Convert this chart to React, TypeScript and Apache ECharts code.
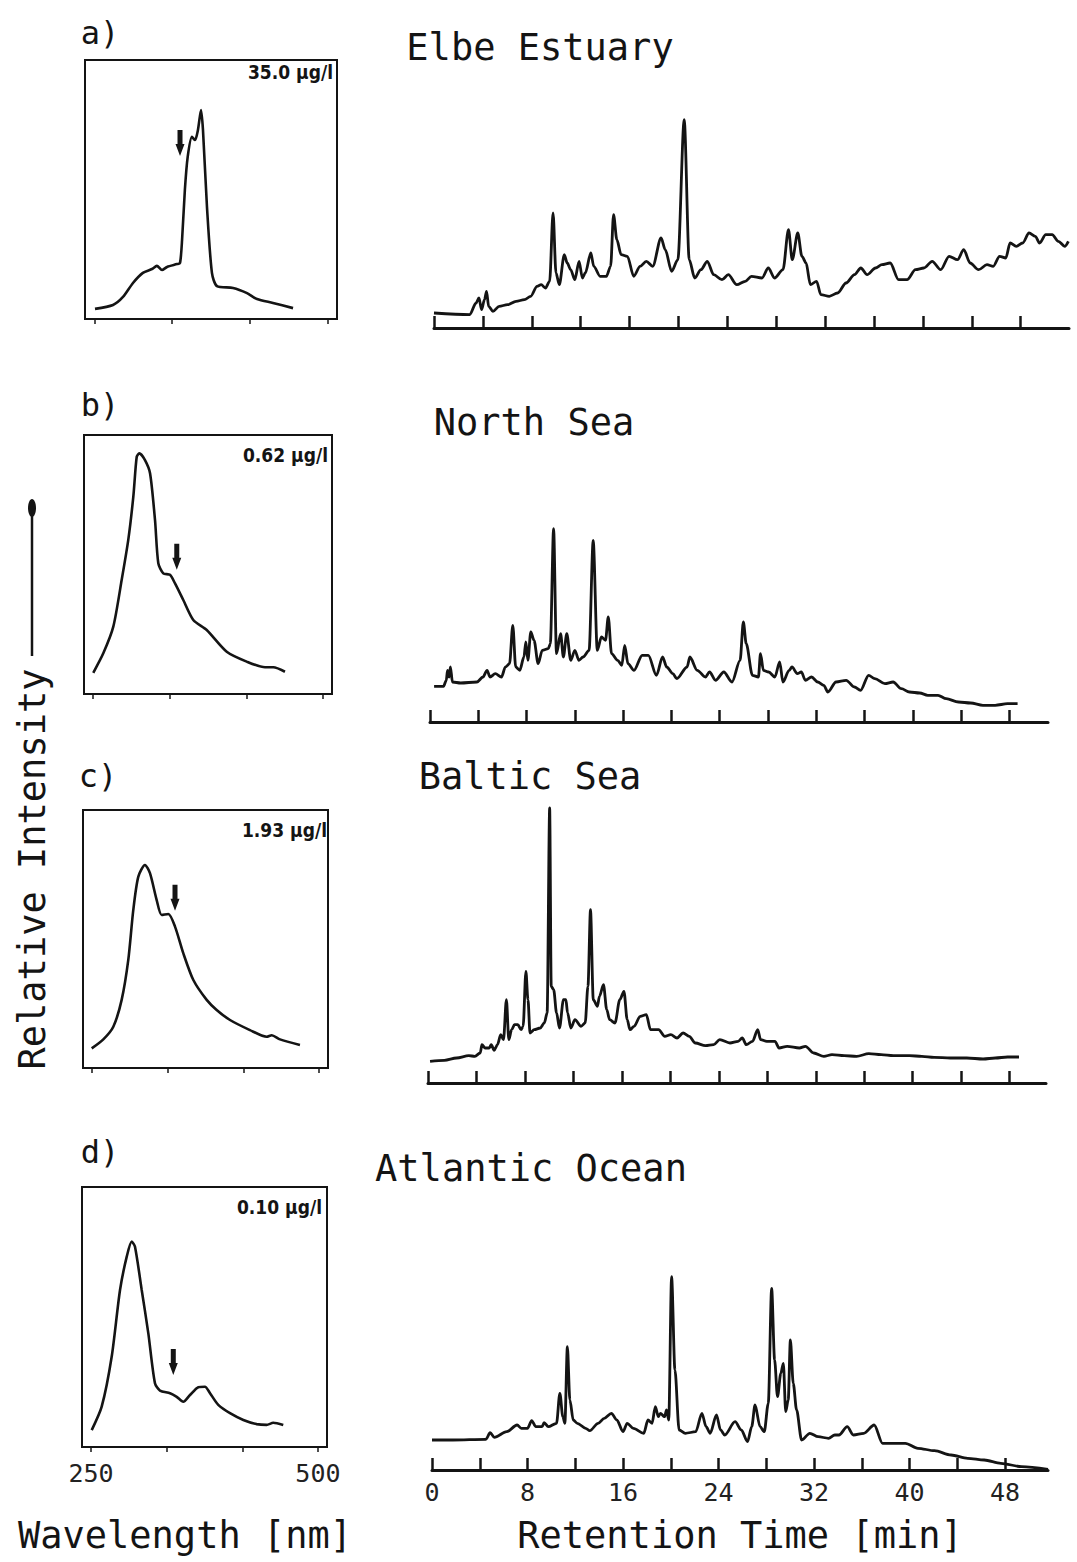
import React, { useEffect, useRef } from "react";
import * as echarts from "echarts";

// ---------------- DATA ----------------
const panelLabels = ["a)", "b)", "c)", "d)"];
const panelTitles = ["Elbe Estuary", "North Sea", "Baltic Sea", "Atlantic Ocean"];
const concentrations = ["35.0 µg/l", "0.62 µg/l", "1.93 µg/l", "0.10 µg/l"];
const wavelengthTicks = [250, 333.3, 416.7, 500];
const wavelengthLabels = [250, 500];
const retentionTicks = [0, 4, 8, 12, 16, 20, 24, 28, 32, 36, 40, 44, 48];
const retentionLabels = [0, 8, 16, 24, 32, 40, 48];

// fluorescence spectra: [wavelength nm, relative intensity %]
const spectrumA: [number, number][] = [
  [250.7, 3.9], [270, 5.4], [280.7, 8.5], [291.4, 13.9], [302, 17.8], [311.8, 19.3], [317, 20.5],
  [322.5, 18.9], [327.9, 20.1], [338.6, 21.2], [341.8, 21.6], [344, 30.5], [347, 49.8], [350, 62.5],
  [354.6, 70.3], [357.9, 69.1], [361, 73], [364.3, 80.7], [366.4, 73], [370.7, 43.2], [376, 17.8],
  [381.4, 12.7], [398.6, 12], [413.6, 10], [424.3, 7.7], [441.4, 6.2], [462.9, 4.2],
];
const spectrumB: [number, number][] = [
  [250.1, 8.2], [261, 15.7], [271.9, 26], [281, 44], [288.2, 59.5], [293.7, 76.2], [297.4, 91.6],
  [300.2, 92.9], [306.4, 90.3], [311.9, 85.2], [317.3, 67.2], [320.9, 50.5], [326.3, 46.6],
  [333.6, 46], [339.1, 42.7], [348.1, 36.3], [359, 28.6], [373.6, 24.7], [395.4, 16.3],
  [417.1, 12.5], [437.1, 10.3], [446.1, 10.3], [458.8, 8.6],
];
const spectrumC: [number, number][] = [
  [249.6, 7.6], [262.4, 11.1], [273.4, 16], [282.6, 26.4], [289.9, 41.9], [295.4, 61.2], [300.9, 74.1],
  [308.3, 78.7], [313.8, 75.5], [321.2, 65.1], [326.7, 59.3], [334, 59.7], [341.4, 54.8],
  [350.5, 44.5], [361.6, 34.1], [376.3, 26.4], [387.3, 22.5], [402, 18.6], [424, 14.7],
  [442.4, 12.1], [448, 12.7], [457.1, 11.1], [479.1, 8.9],
];
const spectrumD: [number, number][] = [
  [250.7, 6.5], [261.7, 15.5], [272.7, 34.7], [281.9, 60.4], [289.3, 73.2], [294.8, 79], [298.4, 77],
  [305.8, 60.4], [313.1, 43.7], [320.4, 24.5], [326, 21.7], [337, 20.7], [344.4, 19.3],
  [351.6, 17.4], [359, 20], [368.2, 23], [375.5, 23.2], [381.1, 20.7], [390.2, 16.2],
  [403.1, 13], [417.8, 10.4], [432.5, 8.8], [443.5, 8.5], [450.8, 9.3], [461.8, 8.5],
];
// arrow markers on the spectra: [wavelength, intensity]
const arrowA: [number, number] = [341.8, 68];
const arrowB: [number, number] = [341, 53];
const arrowC: [number, number] = [341.4, 66];
const arrowD: [number, number] = [340.6, 32.7];

// chromatograms: [retention time min, relative intensity]
const chromA: [number, number][] = [
  [0, 15], [2.92, 13.3], [3.44, 25], [3.68, 30], [3.89, 18.3], [4.13, 28.3], [4.3, 36.7], [4.47, 21.7],
  [4.82, 16.7], [5.33, 21.7], [6.02, 23.3], [6.71, 26.7], [7.4, 28.3], [7.91, 31.7], [8.43, 41.7],
  [8.77, 43.3], [9.12, 40], [9.46, 46.7], [9.74, 115], [9.98, 55], [10.25, 43.3], [10.66, 73.3],
  [10.9, 65], [11.18, 58.3], [11.52, 48.3], [11.87, 66.7], [12.14, 50], [12.38, 55], [12.83, 75],
  [13.07, 61.7], [13.59, 51.7], [14.1, 51.7], [14.45, 61.7], [14.69, 113.3], [14.96, 88.3],
  [15.31, 73.3], [15.82, 71.7], [16.34, 51.7], [16.86, 61.7], [17.37, 66.7], [17.89, 61.7],
  [18.58, 90], [18.92, 78.3], [19.44, 56.7], [19.95, 68.3], [20.47, 208.3], [20.88, 68.3],
  [21.33, 50], [21.84, 58.3], [22.36, 66.7], [22.88, 53.3], [23.56, 48.3], [24.08, 53.3],
  [24.77, 43.3], [25.46, 46.7], [25.97, 51.7], [26.83, 50], [27.35, 60], [27.86, 50], [28.55, 58.3],
  [29.0, 98.3], [29.31, 68.3], [29.76, 95], [30.1, 71.7], [30.44, 65], [30.79, 43.3], [31.3, 46.7],
  [31.65, 33.3], [32.34, 31.7], [33.02, 35], [33.71, 45], [34.4, 53.3], [34.92, 60], [35.43, 53.3],
  [36.12, 60], [36.64, 63.3], [37.32, 65], [38.01, 48.3], [38.7, 48.3], [39.39, 58.3], [40.08, 60],
  [40.76, 66.7], [41.45, 58.3], [42.14, 71.7], [42.83, 68.3], [43.34, 78.3], [43.86, 65],
  [44.55, 58.3], [45.24, 63.3], [45.75, 61.7], [46.27, 71.7], [46.78, 70], [47.13, 85], [47.64, 81.7],
  [48.16, 85], [48.68, 95], [49.19, 91.7], [49.54, 85], [50.05, 93.3], [50.57, 93.3], [51.08, 86.7],
  [51.6, 81.7], [51.9, 86.7],
];
const chromB: [number, number][] = [
  [0.34, 35.7], [1.12, 35.7], [1.35, 41.7], [1.45, 51.7], [1.59, 45], [1.69, 55], [1.86, 40],
  [2.54, 39], [3.89, 40], [4.39, 45], [4.73, 51.7], [4.97, 45], [5.41, 48.3], [5.92, 45], [6.25, 55],
  [6.59, 58.3], [6.86, 96.7], [7.1, 55], [7.44, 51.7], [7.78, 65], [7.94, 80], [8.11, 61.7], [8.35, 90],
  [8.62, 81.7], [8.96, 58.3], [9.3, 71.7], [9.8, 73.3], [9.97, 78.3], [10.24, 193.3], [10.48, 68.3],
  [10.82, 88.3], [11.05, 65], [11.33, 88.3], [11.66, 61.7], [12.0, 71.7], [12.34, 61.7], [12.68, 65],
  [13.18, 71.7], [13.52, 181.7], [13.86, 71.7], [14.2, 85], [14.54, 81.7], [14.77, 105], [15.04, 68.3],
  [15.55, 61.7], [15.89, 56.7], [16.13, 76.7], [16.4, 58.3], [16.9, 51.7], [17.58, 66.7], [18.09, 66.7],
  [18.76, 46.7], [19.27, 65], [19.61, 55], [20.12, 48.3], [20.45, 43.3], [21.3, 55], [21.53, 65],
  [22.14, 51.7], [22.82, 45], [23.16, 50], [23.66, 41.7], [24.34, 50], [25.02, 40], [25.69, 61.7],
  [25.96, 100], [26.2, 78.3], [26.71, 46.7], [27.21, 45], [27.38, 68.3], [27.62, 51.7], [28.06, 50],
  [28.57, 45], [28.97, 60], [29.24, 40], [29.75, 51.7], [29.99, 55], [30.43, 48.3], [30.76, 50],
  [31.1, 41.7], [31.61, 45], [32.12, 40], [32.62, 36.7], [32.96, 30], [33.64, 40], [34.48, 41.7],
  [35.16, 35], [35.67, 31.7], [36.34, 46.7], [36.85, 43.3], [37.69, 38.3], [38.37, 40], [39.05, 33.3],
  [39.72, 30], [40.57, 29], [41.24, 26.7], [42.09, 26.7], [42.77, 23.3], [43.78, 20], [44.79, 19],
  [45.81, 16.7], [46.82, 16.7], [47.84, 18.3], [48.68, 18.3],
];
const chromC: [number, number][] = [
  [0.17, 21.7], [1.35, 22.7], [2.36, 25], [3.37, 27.3], [3.87, 26.7], [4.31, 30], [4.45, 38.3],
  [4.72, 35], [5.05, 35], [5.22, 38.3], [5.46, 32.7], [5.73, 38.3], [6.0, 48.3], [6.23, 43.3],
  [6.47, 83.3], [6.67, 43.3], [6.9, 53.3], [7.14, 58.3], [7.41, 58.3], [7.68, 53.3], [7.85, 56.7],
  [8.08, 111.7], [8.25, 83.3], [8.42, 50], [8.76, 53.3], [9.26, 55], [9.6, 60], [9.83, 70],
  [10.04, 275], [10.17, 96.7], [10.37, 93.3], [10.61, 70], [10.85, 55], [11.18, 83.3], [11.38, 83.3],
  [11.52, 70], [11.79, 55], [12.13, 63.3], [12.63, 56.7], [12.97, 60], [13.2, 96.7], [13.41, 173.3],
  [13.64, 83.3], [13.98, 76.7], [14.15, 86.7], [14.48, 98.3], [14.75, 73.3], [14.99, 63.3], [15.43, 60],
  [15.83, 83.3], [16.17, 91.7], [16.44, 63.3], [16.67, 53.3], [17.01, 56.7], [17.51, 66.7],
  [18.02, 68.3], [18.36, 53.3], [19.03, 53.3], [19.54, 46.7], [20.04, 48.3], [20.55, 45], [21.05, 50],
  [21.56, 46.7], [22.06, 40], [22.9, 37.3], [23.58, 38.3], [24.08, 43.3], [24.92, 40], [25.6, 41.7],
  [25.93, 45], [26.27, 38.3], [26.78, 41.7], [27.21, 53.3], [27.45, 43.3], [27.96, 41.7], [28.63, 41.7],
  [28.97, 35], [29.64, 36.7], [30.65, 35], [31.15, 36.7], [31.83, 30], [32.67, 26.7], [33.34, 28.3],
  [34.35, 27.3], [35.37, 26.7], [36.38, 29.3], [37.39, 28.3], [38.4, 27.3], [39.74, 27.3], [40.75, 26.7],
  [41.76, 25.7], [43.11, 25], [44.46, 25], [45.81, 24], [46.82, 25], [47.83, 26], [48.77, 26],
];
const chromD: [number, number][] = [
  [0, 30], [1.74, 30], [4.52, 30.7], [4.87, 37.3], [5.22, 32.7], [6.26, 38.3], [7.13, 45], [7.48, 41.7],
  [8.0, 41.7], [8.35, 49.3], [8.7, 43.3], [9.22, 43.3], [9.39, 47.3], [9.74, 43.3], [10.43, 46.7],
  [10.71, 76.7], [10.96, 53.3], [11.13, 46.7], [11.34, 123.3], [11.55, 70], [11.83, 50], [12.17, 46.7],
  [12.87, 41.7], [13.22, 39.3], [13.91, 46.7], [14.43, 51.7], [15.03, 56.7], [15.48, 50], [16.0, 38.3],
  [16.35, 46.7], [16.87, 41.7], [17.74, 36.7], [18.09, 50], [18.43, 46.7], [18.71, 63.3], [18.96, 53.3],
  [19.13, 56.7], [19.48, 53.3], [19.65, 60], [19.83, 50], [20.07, 193.3], [20.35, 100], [20.7, 40],
  [21.22, 36.7], [22.09, 38.3], [22.61, 56.7], [22.96, 43.3], [23.3, 36.7], [23.83, 55], [24.17, 40],
  [24.52, 35], [25.39, 48.3], [25.91, 40], [26.43, 28.3], [26.78, 43.3], [27.06, 65], [27.48, 43.3],
  [27.83, 38.3], [28.17, 66.7], [28.45, 181.7], [28.7, 110], [28.94, 73.3], [29.22, 96.7],
  [29.43, 106.7], [29.63, 58.3], [29.84, 70], [30.02, 130], [30.26, 86.7], [30.54, 60], [30.96, 30],
  [31.65, 36.7], [32.35, 33.3], [33.22, 31.7], [33.74, 35], [34.09, 35], [34.78, 43.3], [35.3, 35],
  [36.17, 36.7], [37.04, 45], [37.74, 26.7], [38.61, 26.7], [39.65, 26.7], [40.7, 21.7], [42.09, 19.3],
  [43.48, 15], [44.87, 11.7], [46.26, 10], [47.65, 6.7], [49.39, 3.3], [51.6, 0.7],
];

const spectra = [spectrumA, spectrumB, spectrumC, spectrumD];
const arrows = [arrowA, arrowB, arrowC, arrowD];
const chroms = [chromA, chromB, chromC, chromD];
const chromMax = [51.95, 51.2, 51, 51.6];

// ---------------- LAYOUT ----------------
const MONO = "'DejaVu Sans Mono', 'Liberation Mono', monospace";
const NARROW = "'Liberation Sans Narrow', 'DejaVu Sans Condensed', 'Arial Narrow', sans-serif";
const INK = "#141414";

const specGrids = [
  { left: 85, top: 60, width: 252, height: 259 },
  { left: 84, top: 435, width: 248, height: 259 },
  { left: 83, top: 810, width: 245, height: 258 },
  { left: 82, top: 1187, width: 245, height: 260 },
];
const chromGrids = [
  { left: 434, top: 108, width: 635, height: 220 },
  { left: 430, top: 522, width: 618, height: 200 },
  { left: 428, top: 803, width: 618, height: 280 },
  { left: 432, top: 1270, width: 616, height: 200 },
];
const labelPos = [[100, 33], [100, 405], [98, 776], [100, 1152]];
const titlePos = [[540, 47], [534, 422], [530, 776], [531, 1168]];
const concPos = [[333, 72], [328, 455], [327, 830], [322, 1207]];

const ARROW = "path://M2,0 L7,0 L7,14 L9,14 L4.5,26 L0,14 L2,14 Z";

function buildOption() {
  const grid: any[] = [];
  const xAxis: any[] = [];
  const yAxis: any[] = [];
  const series: any[] = [];

  specGrids.forEach((g, i) => {
    grid.push({ ...g, show: true, borderColor: INK, borderWidth: 2, backgroundColor: "transparent" });
    xAxis.push({
      type: "value",
      gridIndex: i,
      min: 240,
      max: 510,
      axisLine: { show: false },
      splitLine: { show: false },
      axisTick: {
        show: true,
        customValues: wavelengthTicks,
        length: 5,
        inside: false,
        lineStyle: { color: INK, width: 1.5 },
      },
      axisLabel: {
        show: i === 3,
        customValues: wavelengthLabels,
        fontFamily: MONO,
        fontSize: 25,
        color: "#222",
        margin: 14,
      },
    });
    yAxis.push({ type: "value", gridIndex: i, min: 0, max: 100, show: false });
    series.push({
      type: "line",
      xAxisIndex: i,
      yAxisIndex: i,
      data: spectra[i],
      smooth: 0.25,
      showSymbol: false,
      silent: true,
      lineStyle: { color: INK, width: 2.6 },
      markPoint: {
        symbol: ARROW,
        symbolSize: [9, 26],
        silent: true,
        itemStyle: { color: INK },
        label: { show: false },
        data: [{ coord: arrows[i] }],
      },
    });
  });

  chromGrids.forEach((g, j) => {
    const idx = 4 + j;
    grid.push({ ...g, show: false });
    xAxis.push({
      type: "value",
      gridIndex: idx,
      min: 0,
      max: chromMax[j],
      splitLine: { show: false },
      axisLine: { show: true, onZero: false, lineStyle: { color: INK, width: 3 } },
      axisTick: {
        show: true,
        inside: true,
        length: 12,
        customValues: retentionTicks,
        lineStyle: { color: INK, width: 2.5 },
      },
      axisLabel: {
        show: j === 3,
        customValues: retentionLabels,
        fontFamily: MONO,
        fontSize: 25,
        color: "#222",
        margin: 10,
      },
    });
    yAxis.push({ type: "value", gridIndex: idx, min: 0, max: g.height, show: false });
    series.push({
      type: "line",
      xAxisIndex: idx,
      yAxisIndex: idx,
      data: chroms[j],
      smooth: 0.3,
      smoothMonotone: "x",
      showSymbol: false,
      silent: true,
      lineStyle: { color: INK, width: 2.8, join: "round" },
    });
  });

  const txt = (text: string, x: number, y: number, size: number, family: string, extra: any = {}) => ({
    type: "text",
    x,
    y,
    silent: true,
    rotation: extra.rotation || 0,
    style: {
      text,
      fontSize: size,
      fontFamily: family,
      fontWeight: extra.weight || "normal",
      fill: INK,
      align: extra.align || "center",
      verticalAlign: "middle",
      textAlign: extra.align || "center",
      textVerticalAlign: "middle",
    },
  });

  const graphic: any[] = [];
  panelLabels.forEach((t, i) => graphic.push(txt(t, labelPos[i][0], labelPos[i][1], 32, MONO)));
  panelTitles.forEach((t, i) => graphic.push(txt(t, titlePos[i][0], titlePos[i][1], 37, MONO)));
  concentrations.forEach((t, i) =>
    graphic.push(txt(t, concPos[i][0], concPos[i][1], 19, NARROW, { align: "right", weight: "bold" }))
  );
  graphic.push(txt("Relative Intensity", 32, 869, 37, MONO, { rotation: Math.PI / 2 }));
  graphic.push({
    type: "line",
    silent: true,
    shape: { x1: 32, y1: 656, x2: 32, y2: 512 },
    style: { stroke: INK, lineWidth: 2.5 },
  });
  graphic.push({
    type: "ellipse",
    silent: true,
    shape: { cx: 32, cy: 508, rx: 4, ry: 9 },
    style: { fill: INK },
  });
  graphic.push(txt("Wavelength [nm]", 185, 1535, 37, MONO));
  graphic.push(txt("Retention Time [min]", 740, 1535, 37, MONO));

  return {
    animation: false,
    backgroundColor: "#ffffff",
    grid,
    xAxis,
    yAxis,
    series,
    graphic,
  };
}

export default function App() {
  const ref = useRef<HTMLDivElement>(null);
  useEffect(() => {
    if (!ref.current) return;
    const chart = echarts.init(ref.current, null, { renderer: "svg" });
    chart.setOption(buildOption() as any);
    return () => chart.dispose();
  }, []);
  return (
    <div
      ref={ref}
      style={{ position: "absolute", left: 0, top: 0, width: 1077, height: 1562, background: "#fff" }}
    />
  );
}
